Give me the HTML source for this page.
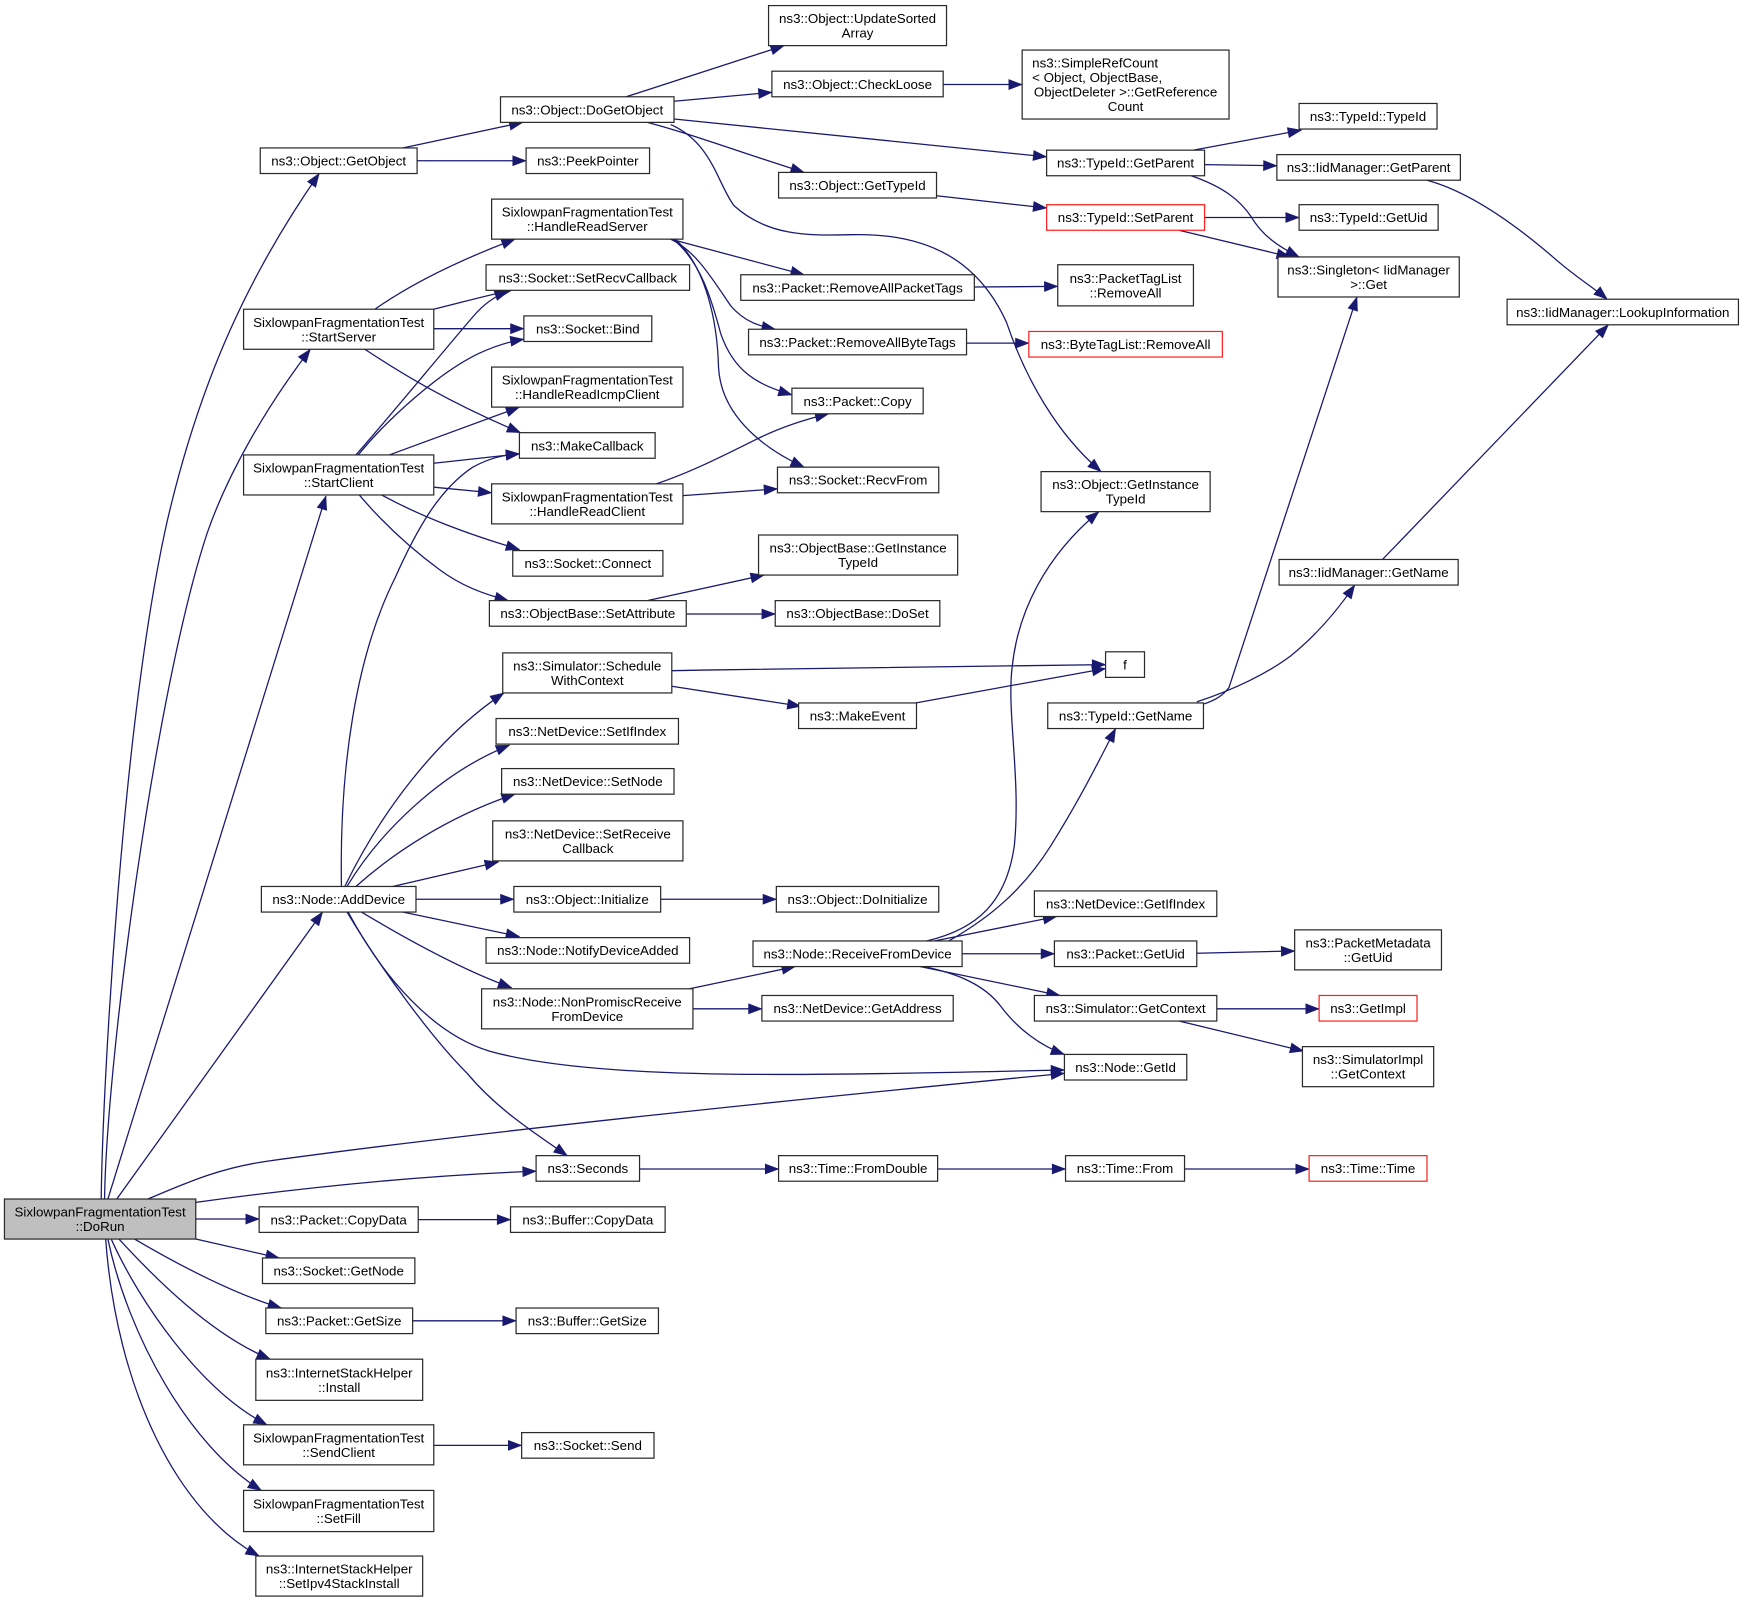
<!DOCTYPE html>
<html><head><meta charset="utf-8"><style>
html,body{margin:0;padding:0;background:#fff;}
svg{display:block;}
text{font-family:"Liberation Sans",Arial,sans-serif;font-size:12px;fill:#000;}
.n{fill:#fff;stroke:#2a2a2a;stroke-width:1.1;}
.r{fill:#fff;stroke:#ff2020;stroke-width:1.1;}
.g{fill:#bfbfbf;stroke:#2a2a2a;stroke-width:1.1;}
.e{fill:none;stroke:#191970;stroke-width:1.15;marker-end:url(#a);}
</style></head><body>
<svg width="1744" height="1601" viewBox="0 0 1568 1439.4" xmlns="http://www.w3.org/2000/svg">
<defs><marker id="a" markerUnits="userSpaceOnUse" markerWidth="13" markerHeight="10" refX="12" refY="4.5" orient="auto" overflow="visible"><path d="M0,0 L12,4.5 L0,9 z" fill="#191970" stroke="#191970" stroke-width="0.5"/></marker></defs>
<rect width="1568" height="1440" fill="#fff"/>
<!-- edges -->
<path class="e" d="M91,1078 C92,980 110,650 150,470 C180,340 225,245 287,156"/>
<path class="e" d="M94,1078 C96,950 140,620 186,480 C205,425 240,365 279,314"/>
<path class="e" d="M97,1078 L293,446"/>
<path class="e" d="M105,1078 L290,820"/>
<path class="e" d="M133,1078 C175,1060 200,1050 240,1044 C450,1015 750,985 957,965"/>
<path class="e" d="M176,1081 C300,1064 400,1056 482,1053"/>
<path class="e" d="M176,1096 L233,1096"/>
<path class="e" d="M176,1114 L251,1131"/>
<path class="e" d="M121,1114 C165,1140 215,1165 253,1176"/>
<path class="e" d="M107,1114 C140,1150 190,1200 243,1222"/>
<path class="e" d="M100,1114 C125,1170 180,1250 240,1281"/>
<path class="e" d="M97,1114 C115,1200 170,1300 235,1340"/>
<path class="e" d="M95,1114 C105,1250 160,1360 233,1399"/>
<path class="e" d="M362,133 L470,110"/>
<path class="e" d="M375,144.5 L473,144.5"/>
<path class="e" d="M563,87 L705,41"/>
<path class="e" d="M606,91 L694,83"/>
<path class="e" d="M582,110 C620,120 660,135 723,155"/>
<path class="e" d="M606,107 L941,141"/>
<path class="e" d="M603,112 C640,128 645,165 660,185 C690,212 725,212 765,211 C835,209 880,235 905,290 C922,340 950,390 990,424"/>
<path class="e" d="M848,76 L919,76"/>
<path class="e" d="M842,176 L941,187"/>
<path class="e" d="M1073,135 L1170,117"/>
<path class="e" d="M1083,148 L1148,149"/>
<path class="e" d="M1071,158 C1100,168 1115,180 1125,195 C1135,212 1150,222 1168,231"/>
<path class="e" d="M1083,195.5 L1168,195.5"/>
<path class="e" d="M1060,207 L1160,231"/>
<path class="e" d="M1283,162 C1320,172 1360,200 1395,230 C1415,248 1432,258 1445,269"/>
<path class="e" d="M603,215 L723,247"/>
<path class="e" d="M603,215 C625,225 640,250 657,275 C670,290 683,293 697,296"/>
<path class="e" d="M605,215 C630,235 640,270 648,300 C660,335 682,346 712,355"/>
<path class="e" d="M607,215 C635,240 645,290 646,330 C648,370 680,400 723,420"/>
<path class="e" d="M337,278 C370,255 410,235 463,215"/>
<path class="e" d="M390,278 C415,272 435,266 460,261"/>
<path class="e" d="M390,295.5 L471,295.5"/>
<path class="e" d="M328,314 C360,335 400,360 468,389"/>
<path class="e" d="M320,409 C350,375 395,320 425,285 C435,273 445,266 457,262"/>
<path class="e" d="M322,409 C350,375 395,335 430,318 C445,311 458,307 471,305"/>
<path class="e" d="M350,409 L467,366"/>
<path class="e" d="M390,416.5 L467,408"/>
<path class="e" d="M390,438 L442,443"/>
<path class="e" d="M343,445 C380,465 420,480 467,494"/>
<path class="e" d="M323,445 C340,465 365,490 395,512 C415,527 435,534 457,540"/>
<path class="e" d="M307,797 C305,690 320,590 355,520 C375,475 395,440 425,420 C440,412 452,409 467,408"/>
<path class="e" d="M590,435 C620,425 650,410 680,395 C700,385 720,378 745,372"/>
<path class="e" d="M614,445.6 L699,439.5"/>
<path class="e" d="M582,540 L687,517"/>
<path class="e" d="M617,552 L697,552"/>
<path class="e" d="M604,603 C750,600 900,598 994,597.5"/>
<path class="e" d="M604,617 L720,635"/>
<path class="e" d="M823,632 L994,601"/>
<path class="e" d="M310,797 C340,735 390,665 453,623"/>
<path class="e" d="M312,797 C340,750 395,695 458,670"/>
<path class="e" d="M320,797 C350,770 400,735 463,714"/>
<path class="e" d="M353,797 L448,775"/>
<path class="e" d="M374,808.5 L462,808.5"/>
<path class="e" d="M362,820 L467,842"/>
<path class="e" d="M325,820 C355,838 410,870 460,888"/>
<path class="e" d="M313,820 C345,880 390,930 440,945 C500,962 600,966 700,966 C800,966 900,963 957,962"/>
<path class="e" d="M312,820 C345,875 390,935 420,965 C445,995 475,1015 510,1039"/>
<path class="e" d="M620,889 L715,869"/>
<path class="e" d="M623,907 L685,907"/>
<path class="e" d="M833,846 C880,835 905,810 912,760 C918,700 905,640 910,600 C915,550 940,500 988,460"/>
<path class="e" d="M853,846 C890,825 920,800 945,760 C970,720 985,690 1003,655"/>
<path class="e" d="M840,846 L950,824"/>
<path class="e" d="M865,857.5 L948,857.5"/>
<path class="e" d="M827,869 L953,895"/>
<path class="e" d="M830,869 C860,875 885,885 900,905 C915,925 935,940 957,948"/>
<path class="e" d="M1094,907 L1186,907"/>
<path class="e" d="M1060,918 L1172,945"/>
<path class="e" d="M1076,857 L1164,855"/>
<path class="e" d="M1082,633 C1092,630 1100,625 1105,618 L1220,267"/>
<path class="e" d="M1076,631 C1110,620 1140,605 1160,590 C1185,570 1205,545 1218,526"/>
<path class="e" d="M1243,503 L1446,292"/>
<path class="e" d="M876,258 L951,257.5"/>
<path class="e" d="M869,308.5 L925,308.5"/>
<path class="e" d="M575,1051 L700,1051"/>
<path class="e" d="M843,1051 L958,1051"/>
<path class="e" d="M1065,1051 L1177,1051"/>
<path class="e" d="M376,1096.5 L459,1096.5"/>
<path class="e" d="M371,1187.5 L464,1187.5"/>
<path class="e" d="M390,1299.5 L469,1299.5"/>
<path class="e" d="M594,808.5 L698,808.5"/>

<!-- nodes column 1/2 -->
<rect class="g" x="4" y="1078" width="172" height="36"/>
<text x="90" y="1093.8" text-anchor="middle">SixlowpanFragmentationTest</text>
<text x="90" y="1106.8" text-anchor="middle">::DoRun</text>

<rect class="n" x="234" y="133" width="141" height="23"/>
<text x="304.5" y="148.8" text-anchor="middle">ns3::Object::GetObject</text>
<rect class="n" x="219" y="278" width="171" height="36"/>
<text x="304.5" y="293.8" text-anchor="middle">SixlowpanFragmentationTest</text>
<text x="304.5" y="306.8" text-anchor="middle">::StartServer</text>
<rect class="n" x="219" y="409" width="171" height="36"/>
<text x="304.5" y="424.8" text-anchor="middle">SixlowpanFragmentationTest</text>
<text x="304.5" y="437.8" text-anchor="middle">::StartClient</text>
<rect class="n" x="235" y="797" width="139" height="23"/>
<text x="304.5" y="812.8" text-anchor="middle">ns3::Node::AddDevice</text>
<rect class="n" x="233" y="1085" width="143" height="23"/>
<text x="304.5" y="1100.8" text-anchor="middle">ns3::Packet::CopyData</text>
<rect class="n" x="236" y="1131" width="137" height="23"/>
<text x="304.5" y="1146.8" text-anchor="middle">ns3::Socket::GetNode</text>
<rect class="n" x="239" y="1176" width="132" height="23"/>
<text x="305" y="1191.8" text-anchor="middle">ns3::Packet::GetSize</text>
<rect class="n" x="230" y="1222" width="150" height="37"/>
<text x="305" y="1238.3" text-anchor="middle">ns3::InternetStackHelper</text>
<text x="305" y="1251.3" text-anchor="middle">::Install</text>
<rect class="n" x="219" y="1281" width="171" height="36"/>
<text x="304.5" y="1296.8" text-anchor="middle">SixlowpanFragmentationTest</text>
<text x="304.5" y="1309.8" text-anchor="middle">::SendClient</text>
<rect class="n" x="219" y="1340" width="171" height="37"/>
<text x="304.5" y="1356.3" text-anchor="middle">SixlowpanFragmentationTest</text>
<text x="304.5" y="1369.3" text-anchor="middle">::SetFill</text>
<rect class="n" x="230" y="1399" width="150" height="36"/>
<text x="305" y="1414.8" text-anchor="middle">ns3::InternetStackHelper</text>
<text x="305" y="1427.8" text-anchor="middle">::SetIpv4StackInstall</text>

<!-- column 3 -->
<rect class="n" x="450" y="87" width="156" height="23"/>
<text x="528" y="102.8" text-anchor="middle">ns3::Object::DoGetObject</text>
<rect class="n" x="473" y="133" width="111" height="23"/>
<text x="528.5" y="148.8" text-anchor="middle">ns3::PeekPointer</text>
<rect class="n" x="442" y="179" width="172" height="36"/>
<text x="528" y="194.8" text-anchor="middle">SixlowpanFragmentationTest</text>
<text x="528" y="207.8" text-anchor="middle">::HandleReadServer</text>
<rect class="n" x="437" y="238" width="183" height="23"/>
<text x="528.5" y="253.8" text-anchor="middle">ns3::Socket::SetRecvCallback</text>
<rect class="n" x="471" y="284" width="115" height="23"/>
<text x="528.5" y="299.8" text-anchor="middle">ns3::Socket::Bind</text>
<rect class="n" x="442" y="330" width="172" height="36"/>
<text x="528" y="345.8" text-anchor="middle">SixlowpanFragmentationTest</text>
<text x="528" y="358.8" text-anchor="middle">::HandleReadIcmpClient</text>
<rect class="n" x="467" y="389" width="122" height="23"/>
<text x="528" y="404.8" text-anchor="middle">ns3::MakeCallback</text>
<rect class="n" x="442" y="435" width="172" height="36"/>
<text x="528" y="450.8" text-anchor="middle">SixlowpanFragmentationTest</text>
<text x="528" y="463.8" text-anchor="middle">::HandleReadClient</text>
<rect class="n" x="461" y="495" width="135" height="23"/>
<text x="528.5" y="510.8" text-anchor="middle">ns3::Socket::Connect</text>
<rect class="n" x="440" y="540" width="177" height="23"/>
<text x="528.5" y="555.8" text-anchor="middle">ns3::ObjectBase::SetAttribute</text>
<rect class="n" x="452" y="587" width="152" height="36"/>
<text x="528" y="602.8" text-anchor="middle">ns3::Simulator::Schedule</text>
<text x="528" y="615.8" text-anchor="middle">WithContext</text>
<rect class="n" x="446" y="646" width="164" height="23"/>
<text x="528" y="661.8" text-anchor="middle">ns3::NetDevice::SetIfIndex</text>
<rect class="n" x="451" y="691" width="155" height="23"/>
<text x="528.5" y="706.8" text-anchor="middle">ns3::NetDevice::SetNode</text>
<rect class="n" x="443" y="738" width="171" height="36"/>
<text x="528.5" y="753.8" text-anchor="middle">ns3::NetDevice::SetReceive</text>
<text x="528.5" y="766.8" text-anchor="middle">Callback</text>
<rect class="n" x="462" y="797" width="132" height="23"/>
<text x="528" y="812.8" text-anchor="middle">ns3::Object::Initialize</text>
<rect class="n" x="437" y="843" width="183" height="23"/>
<text x="528.5" y="858.8" text-anchor="middle">ns3::Node::NotifyDeviceAdded</text>
<rect class="n" x="433" y="889" width="190" height="36"/>
<text x="528" y="904.8" text-anchor="middle">ns3::Node::NonPromiscReceive</text>
<text x="528" y="917.8" text-anchor="middle">FromDevice</text>
<rect class="n" x="482" y="1039" width="93" height="23"/>
<text x="528.5" y="1054.8" text-anchor="middle">ns3::Seconds</text>
<rect class="n" x="459" y="1085" width="139" height="23"/>
<text x="528.5" y="1100.8" text-anchor="middle">ns3::Buffer::CopyData</text>
<rect class="n" x="464" y="1176" width="128" height="23"/>
<text x="528" y="1191.8" text-anchor="middle">ns3::Buffer::GetSize</text>
<rect class="n" x="469" y="1288" width="119" height="23"/>
<text x="528.5" y="1303.8" text-anchor="middle">ns3::Socket::Send</text>

<!-- column 4 -->
<rect class="n" x="691" y="5" width="160" height="36"/>
<text x="771" y="20.8" text-anchor="middle">ns3::Object::UpdateSorted</text>
<text x="771" y="33.8" text-anchor="middle">Array</text>
<rect class="n" x="694" y="64" width="154" height="23"/>
<text x="771" y="79.8" text-anchor="middle">ns3::Object::CheckLoose</text>
<rect class="n" x="700" y="155" width="142" height="23"/>
<text x="771" y="170.8" text-anchor="middle">ns3::Object::GetTypeId</text>
<rect class="n" x="666" y="247" width="210" height="23"/>
<text x="771" y="262.8" text-anchor="middle">ns3::Packet::RemoveAllPacketTags</text>
<rect class="n" x="673" y="296" width="196" height="23"/>
<text x="771" y="311.8" text-anchor="middle">ns3::Packet::RemoveAllByteTags</text>
<rect class="n" x="712" y="349" width="118" height="23"/>
<text x="771" y="364.8" text-anchor="middle">ns3::Packet::Copy</text>
<rect class="n" x="699" y="420" width="145" height="23"/>
<text x="771.5" y="435.8" text-anchor="middle">ns3::Socket::RecvFrom</text>
<rect class="n" x="682" y="481" width="179" height="36"/>
<text x="771.5" y="496.8" text-anchor="middle">ns3::ObjectBase::GetInstance</text>
<text x="771.5" y="509.8" text-anchor="middle">TypeId</text>
<rect class="n" x="697" y="540" width="148" height="23"/>
<text x="771" y="555.8" text-anchor="middle">ns3::ObjectBase::DoSet</text>
<rect class="n" x="718" y="632" width="106" height="23"/>
<text x="771" y="647.8" text-anchor="middle">ns3::MakeEvent</text>
<rect class="n" x="698" y="797" width="146" height="23"/>
<text x="771" y="812.8" text-anchor="middle">ns3::Object::DoInitialize</text>
<rect class="n" x="677" y="846" width="188" height="23"/>
<text x="771" y="861.8" text-anchor="middle">ns3::Node::ReceiveFromDevice</text>
<rect class="n" x="685" y="895" width="172" height="23"/>
<text x="771" y="910.8" text-anchor="middle">ns3::NetDevice::GetAddress</text>
<rect class="n" x="700" y="1039" width="143" height="23"/>
<text x="771.5" y="1054.8" text-anchor="middle">ns3::Time::FromDouble</text>

<!-- column 5 -->
<rect class="n" x="919" y="45" width="186" height="62"/>
<text x="928" y="60.8">ns3::SimpleRefCount</text>
<text x="928" y="73.8">&lt; Object, ObjectBase,</text>
<text x="1012" y="86.8" text-anchor="middle">ObjectDeleter &gt;::GetReference</text>
<text x="1012" y="99.8" text-anchor="middle">Count</text>
<rect class="n" x="941" y="135" width="142" height="23"/>
<text x="1012" y="150.8" text-anchor="middle">ns3::TypeId::GetParent</text>
<rect class="r" x="941" y="184" width="142" height="23"/>
<text x="1012" y="199.8" text-anchor="middle">ns3::TypeId::SetParent</text>
<rect class="n" x="951" y="238" width="122" height="37"/>
<text x="1012" y="254.3" text-anchor="middle">ns3::PacketTagList</text>
<text x="1012" y="267.3" text-anchor="middle">::RemoveAll</text>
<rect class="r" x="925" y="298" width="174" height="23"/>
<text x="1012" y="313.8" text-anchor="middle">ns3::ByteTagList::RemoveAll</text>
<rect class="n" x="936" y="424" width="152" height="36"/>
<text x="1012" y="439.8" text-anchor="middle">ns3::Object::GetInstance</text>
<text x="1012" y="452.8" text-anchor="middle">TypeId</text>
<rect class="n" x="994" y="586" width="35" height="23"/>
<text x="1011.5" y="601.8" text-anchor="middle">f</text>
<rect class="n" x="942" y="632" width="140" height="23"/>
<text x="1012" y="647.8" text-anchor="middle">ns3::TypeId::GetName</text>
<rect class="n" x="930" y="801" width="164" height="23"/>
<text x="1012" y="816.8" text-anchor="middle">ns3::NetDevice::GetIfIndex</text>
<rect class="n" x="948" y="846" width="128" height="23"/>
<text x="1012" y="861.8" text-anchor="middle">ns3::Packet::GetUid</text>
<rect class="n" x="930" y="895" width="164" height="23"/>
<text x="1012" y="910.8" text-anchor="middle">ns3::Simulator::GetContext</text>
<rect class="n" x="957" y="948" width="110" height="23"/>
<text x="1012" y="963.8" text-anchor="middle">ns3::Node::GetId</text>
<rect class="n" x="958" y="1039" width="107" height="23"/>
<text x="1011.5" y="1054.8" text-anchor="middle">ns3::Time::From</text>

<!-- column 6 -->
<rect class="n" x="1168" y="93" width="124" height="23"/>
<text x="1230" y="108.8" text-anchor="middle">ns3::TypeId::TypeId</text>
<rect class="n" x="1148" y="139" width="165" height="23"/>
<text x="1230.5" y="154.8" text-anchor="middle">ns3::IidManager::GetParent</text>
<rect class="n" x="1168" y="184" width="125" height="23"/>
<text x="1230.5" y="199.8" text-anchor="middle">ns3::TypeId::GetUid</text>
<rect class="n" x="1149" y="231" width="163" height="36"/>
<text x="1230.5" y="246.8" text-anchor="middle">ns3::Singleton&lt; IidManager</text>
<text x="1230.5" y="259.8" text-anchor="middle">&gt;::Get</text>
<rect class="n" x="1150" y="503" width="161" height="23"/>
<text x="1230.5" y="518.8" text-anchor="middle">ns3::IidManager::GetName</text>
<rect class="n" x="1164" y="836" width="132" height="36"/>
<text x="1230" y="851.8" text-anchor="middle">ns3::PacketMetadata</text>
<text x="1230" y="864.8" text-anchor="middle">::GetUid</text>
<rect class="r" x="1186" y="895" width="88" height="23"/>
<text x="1230" y="910.8" text-anchor="middle">ns3::GetImpl</text>
<rect class="n" x="1171" y="941" width="118" height="36"/>
<text x="1230" y="956.8" text-anchor="middle">ns3::SimulatorImpl</text>
<text x="1230" y="969.8" text-anchor="middle">::GetContext</text>
<rect class="r" x="1177" y="1039" width="106" height="23"/>
<text x="1230" y="1054.8" text-anchor="middle">ns3::Time::Time</text>

<rect class="n" x="1355" y="269" width="208" height="23"/>
<text x="1459" y="284.8" text-anchor="middle">ns3::IidManager::LookupInformation</text>
</svg>
</body></html>
